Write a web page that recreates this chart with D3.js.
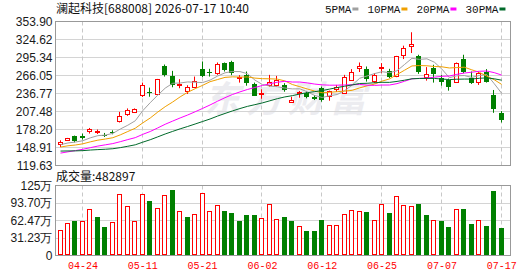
<!DOCTYPE html>
<html>
<head>
<meta charset="utf-8">
<script src="https://cdn.jsdelivr.net/npm/d3@7"></script>
<style>
  html, body { margin: 0; padding: 0; background: #fff; }
  svg { display: block; }
  .ylab   { font: 12px "Liberation Sans", Arial, sans-serif; fill: #1a1a1a; }
  .xlab   { font: 10px "Liberation Mono", monospace; fill: #f00; }
  .legend { font: 11px "Liberation Mono", monospace; fill: #111; }
  .title  { font: 12px "Noto Sans CJK SC", sans-serif; fill: #111; }
</style>
</head>
<body>
<svg id="chart" width="530" height="276"></svg>
<script>
// dati
const title = '澜起科技[688008] 2026-07-17 10:40';

const dates = ['04-21','04-22','04-23','04-24','04-27','04-28','04-29','04-30','05-06','05-07',
  '05-08','05-11','05-12','05-13','05-14','05-15','05-18','05-19','05-20','05-21',
  '05-22','05-25','05-26','05-27','05-28','05-29','06-01','06-02','06-03','06-04',
  '06-05','06-08','06-09','06-10','06-11','06-12','06-15','06-16','06-17','06-18',
  '06-22','06-23','06-24','06-25','06-26','06-29','06-30','07-01','07-02','07-03',
  '07-06','07-07','07-08','07-09','07-10','07-13','07-14','07-15','07-16','07-17'];

const opens = [155.2,160.1,167.1,168.3,175.3,174.2,169.9,174.2,190.6,202.7,
  205.9,233.2,239.7,235.5,282.3,265.4,251.2,240.4,248.6,276.4,
  272.0,269.9,286.2,287.2,262.1,267.1,252.3,237.1,250.2,250.2,
  250.7,222.8,237.6,238.1,231.5,245.3,232.7,245.3,238.7,260.0,
  278.0,276.4,258.0,278.0,273.6,264.3,299.0,315.1,297.1,264.3,
  279.0,261.7,258.9,256.1,292.8,262.6,256.1,272.5,234.3,204.3];

const highs = [160.6,164.5,168.3,171.6,180.7,178.1,172.6,176.9,206.9,212.5,
  212.5,254.5,246.3,260.5,283.9,273.6,260.0,250.2,264.3,288.9,
  276.9,287.2,287.2,290.0,266.6,272.5,254.5,243.6,267.1,265.4,
  253.5,231.5,240.9,240.9,234.3,247.9,241.5,250.7,267.1,276.4,
  287.2,280.7,269.9,286.2,276.9,298.0,314.6,336.4,299.8,279.7,
  283.5,267.1,261.0,287.2,299.8,272.5,272.0,276.4,242.5,208.1];

const lows = [149.6,159.5,157.3,161.7,171.6,170.9,166.0,170.4,189.6,200.4,
  205.0,231.0,231.5,235.0,264.3,246.9,245.3,236.0,246.9,263.3,
  264.3,267.1,272.5,266.6,254.5,249.5,232.7,228.2,247.9,247.9,
  239.7,222.3,229.9,228.9,226.1,223.4,225.0,239.2,237.6,257.7,
  271.7,256.1,253.5,269.9,261.7,263.3,292.8,302.6,268.7,257.7,
  254.5,249.5,241.4,254.5,269.9,252.3,250.7,254.5,205.3,189.6];

const closes = [157.8,163.9,158.9,164.3,178.6,175.3,168.3,173.2,199.4,209.7,
  211.4,250.2,238.7,260.0,267.1,251.0,252.3,247.4,257.7,264.3,
  270.9,285.1,274.1,268.7,263.3,253.5,233.2,238.1,255.6,258.9,
  242.5,226.1,238.7,231.5,228.9,226.1,240.9,247.9,264.3,272.5,
  281.8,260.0,267.1,279.7,264.3,297.6,310.8,317.9,270.9,268.7,
  269.9,255.1,247.9,286.2,270.9,254.5,270.9,256.1,211.4,192.2];

// chiusure prima della finestra visibile (stimate dall'inizio delle medie mobili)
const prevCloses = [158,155,152,150,154,151,148,146,143,140,
  122,119,121,126,124,128,133,137,142,148,
  143,146,144.5,147,148,150,151.5,153,155.2];

const volumes = [453000,585000,616000,616000,828000,688000,507000,598000,1105000,888000,
  616000,1105000,978000,852000,1087000,1165000,797000,688000,749000,1123000,
  797000,906000,797000,767000,616000,731000,731000,670000,924000,652000,
  688000,616000,525000,435000,435000,634000,544000,544000,743000,815000,
  797000,779000,634000,924000,761000,1069000,906000,888000,912000,725000,
  634000,616000,507000,834000,834000,568000,634000,525000,1160000,482897];

const priceTicks = [353.90,324.62,295.34,266.05,236.77,207.48,178.20,148.91,119.63];
const volTicks   = [0,312300,624700,937000,1249400];
const volLabels  = ['0','31.23万','62.47万','93.70万','125万'];
const dateTicks  = ['04-24','05-11','05-21','06-02','06-12','06-25','07-07','07-17'];
const maPeriods  = [5,10,20,30];
const maNames    = ['5PMA','10PMA','20PMA','30PMA'];

// layout
const L = 55.5, R = 510.5;
const P_TOP = 21.5, P_BOT = 165.5;
const V_TOP = 185.5, V_BOT = 255.5;
const UP = '#ff0000', DOWN = '#008000', GRID = '#d4d4d4', FRAME = '#999';
const MA_COLORS = ['#a0a0a0','#f0a000','#ff00ff','#006a2a'];

const svg = d3.select('#chart');
const n = closes.length;
const idx = d3.range(n);

const x  = d3.scaleLinear().domain([0, n - 1]).range([60.5, 501.7]);
const yP = d3.scaleLinear().domain([119.63, 353.90]).range([P_BOT, P_TOP]);
const yV = d3.scaleLinear().domain([0, 1249400]).range([V_BOT, V_TOP]);
const cx = i => Math.round(x(i));
const crisp = v => Math.round(v - 0.5) + 0.5;

// titolo e legenda
svg.append('text').attr('class', 'title').attr('x', 56).attr('y', 13).text(title);

let lx = 325;
maNames.forEach((name, k) => {
  const t = svg.append('text').attr('class', 'legend').attr('x', lx).attr('y', 12.5).text(name);
  const w = t.node().getComputedTextLength();
  svg.append('rect').attr('x', lx + w + 1).attr('y', 7.5).attr('width', 6).attr('height', 3)
    .attr('fill', MA_COLORS[k]);
  lx += w + 1 + 6 + 9;
});

// watermark
svg.append('text')
  .attr('x', 204).attr('y', 112)
  .attr('font-family', '"Noto Sans CJK SC", sans-serif')
  .attr('font-size', 36).attr('font-weight', 'bold').attr('font-style', 'italic')
  .attr('letter-spacing', 6)
  .attr('fill', '#ececf0')
  .text('东方财富');

// griglia orizzontale prezzo
const gGrid = svg.append('g');
gGrid.selectAll('.hp').data(priceTicks).enter().append('line')
  .attr('x1', L).attr('x2', R)
  .attr('y1', d => crisp(yP(d))).attr('y2', d => crisp(yP(d)))
  .attr('stroke', GRID);
gGrid.selectAll('.hv').data(volTicks.slice(1, -1)).enter().append('line')
  .attr('x1', L).attr('x2', R)
  .attr('y1', d => crisp(yV(d))).attr('y2', d => crisp(yV(d)))
  .attr('stroke', GRID);

// griglia verticale tratteggiata
const tickIdx = dateTicks.map(d => dates.indexOf(d));
tickIdx.forEach(i => {
  [[P_TOP, P_BOT], [V_TOP, V_BOT]].forEach(([a, b]) => {
    gGrid.append('line')
      .attr('x1', cx(i) - 0.5).attr('x2', cx(i) - 0.5)
      .attr('y1', a).attr('y2', b)
      .attr('stroke', '#c8c8c8').attr('stroke-dasharray', '4,3');
  });
});

// assi
const yAxis = d3.axisLeft(yP).tickValues(priceTicks).tickFormat(d => d.toFixed(2)).tickSize(0).tickPadding(3);
svg.append('g').attr('transform', `translate(${L},0)`).call(yAxis)
  .call(g => g.select('.domain').remove())
  .selectAll('text').attr('class', 'ylab');

const vAxis = d3.axisLeft(yV).tickValues(volTicks).tickFormat((d, k) => volLabels[k]).tickSize(0).tickPadding(3);
svg.append('g').attr('transform', `translate(${L},0)`).call(vAxis)
  .call(g => g.select('.domain').remove())
  .selectAll('text').attr('class', 'ylab');

const xAxis = d3.axisBottom(x).tickValues(tickIdx).tickFormat(i => dates[i]).tickSize(0).tickPadding(6);
svg.append('g').attr('transform', `translate(0,${V_BOT})`).call(xAxis)
  .call(g => g.select('.domain').remove())
  .selectAll('text').attr('class', 'xlab').attr('x', -0.5);

// candele
const gC = svg.append('g');
idx.forEach(i => {
  const up = closes[i] >= opens[i];
  const c = cx(i);
  gC.append('line')
    .attr('x1', c - 0.5).attr('x2', c - 0.5)
    .attr('y1', yP(highs[i])).attr('y2', yP(lows[i]))
    .attr('stroke', up ? UP : DOWN);
  const yt = yP(Math.max(opens[i], closes[i]));
  const yb = yP(Math.min(opens[i], closes[i]));
  if (up) {
    gC.append('rect')
      .attr('x', c - 2.5).attr('y', Math.round(yt) + 0.5)
      .attr('width', 4).attr('height', Math.max(1, Math.round(yb - yt)))
      .attr('fill', '#fff').attr('stroke', UP);
  } else {
    gC.append('rect')
      .attr('x', c - 3).attr('y', Math.round(yt))
      .attr('width', 5).attr('height', Math.max(1, Math.round(yb - yt)))
      .attr('fill', DOWN);
  }
});

// medie mobili
const allCloses = prevCloses.concat(closes);
const off = prevCloses.length;
const line = d3.line().x(d => x(d[0])).y(d => yP(d[1]));
maPeriods.forEach((p, k) => {
  const pts = idx.map(i => [i, d3.mean(allCloses.slice(off + i - p + 1, off + i + 1))]);
  svg.append('path').attr('d', line(pts))
    .attr('fill', 'none').attr('stroke', MA_COLORS[k]).attr('stroke-width', 1);
});

// volumi (colore rispetto alla chiusura precedente)
const gV = svg.append('g');
idx.forEach(i => {
  const pc = i === 0 ? prevCloses[prevCloses.length - 1] : closes[i - 1];
  const up = closes[i] >= pc;
  const c = cx(i);
  const yt = Math.round(yV(volumes[i]));
  if (up) {
    gV.append('rect')
      .attr('x', c - 2.5).attr('y', yt + 0.5)
      .attr('width', 4).attr('height', Math.round(V_BOT - 0.5) - yt - 1)
      .attr('fill', '#fff').attr('stroke', UP);
  } else {
    gV.append('rect')
      .attr('x', c - 3).attr('y', yt)
      .attr('width', 5).attr('height', Math.round(V_BOT - 0.5) - yt)
      .attr('fill', DOWN);
  }
});

// cornici
svg.append('rect').attr('x', L).attr('y', P_TOP).attr('width', R - L).attr('height', P_BOT - P_TOP)
  .attr('fill', 'none').attr('stroke', FRAME);
svg.append('rect').attr('x', L).attr('y', V_TOP).attr('width', R - L).attr('height', V_BOT - V_TOP)
  .attr('fill', 'none').attr('stroke', FRAME);

svg.append('text').attr('class', 'title').attr('x', 56).attr('y', 181)
  .text('成交量:' + volumes[n - 1]);
</script>
</body>
</html>
